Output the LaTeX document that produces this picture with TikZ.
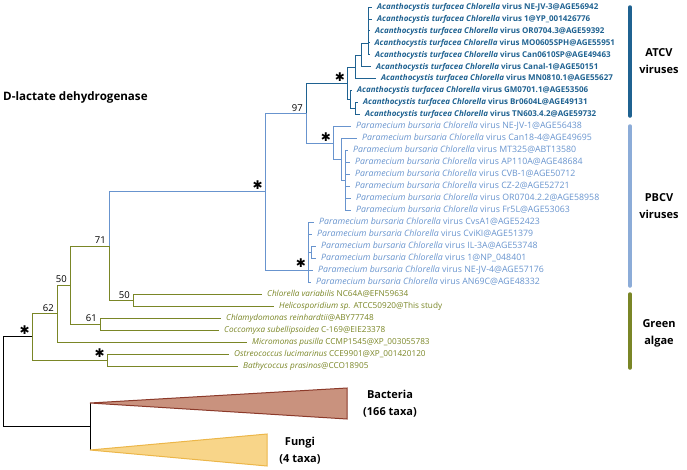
\documentclass[tikz,border=0pt]{standalone}
\usepackage{fontspec}
\setmainfont{Open Sans}
\newfontfamily\symfont{DejaVu Sans}
\definecolor{atcvc}{RGB}{31,98,145}
\definecolor{pbcvc}{RGB}{104,148,206}
\definecolor{algc}{RGB}{122,134,38}
\definecolor{pbbar}{RGB}{140,172,216}
\definecolor{bactfill}{RGB}{201,146,126}
\definecolor{bactline}{RGB}{140,58,42}
\definecolor{fungfill}{RGB}{248,213,137}
\definecolor{fungline}{RGB}{236,182,72}
\newcommand\atcvname[1]{\textit{Acanthocystis turfacea Chlorella} virus #1}
\newcommand\pbcvname[1]{\textit{Paramecium bursaria Chlorella} virus #1}
\tikzset{
  leaf/.style={anchor=west,inner xsep=5pt,inner ysep=0pt,text height=6pt,text depth=1.8pt,font=\fontsize{8.2}{9}\selectfont},
  atleaf/.style={leaf,text=atcvc,font=\fontsize{8}{9}\selectfont\bfseries},
  pbleaf/.style={leaf,text=pbcvc,font=\fontsize{8.8}{9}\selectfont},
  algleaf/.style={leaf,text=algc},
  br/.style={line width=1pt},
  supp/.style={anchor=south east,inner sep=1pt,xshift=-2pt,yshift=1pt,font=\fontsize{9.5}{10}\selectfont},
  bootstar/.style={anchor=south east,inner sep=1pt,xshift=-1pt,yshift=1pt,font=\symfont\fontsize{12}{12}\selectfont},
  grp/.style={align=center,font=\fontsize{11}{17}\selectfont\bfseries},
  bar/.style={line width=3.5pt,line cap=round}
}
\begin{document}
\begin{tikzpicture}[x=1pt,y=-1pt]
\useasboundingbox (0,0) rectangle (687,469);
\node[anchor=west,inner sep=0pt,font=\fontsize{11.6}{12}\selectfont\bfseries] (title) at (3,97) {D-lactate dehydrogenase};
\coordinate (root) at (3,381.7);
\coordinate (nBF) at (90,426.5);
\coordinate (bact) at (90,403);
\coordinate (fung) at (90,450);
\coordinate (alg) at (32,336.9);
\coordinate (n62) at (57,313.6);
\coordinate (n50) at (70,285.1);
\coordinate (n71) at (109,246);
\coordinate (n50b) at (133,300.3);
\coordinate (n61) at (100,324.2);
\coordinate (ostr) at (107,360.1);
\coordinate (vir) at (265,191.7);
\coordinate (n97) at (306,113.3);
\coordinate (atR) at (347,83.4);
\coordinate (atA) at (355,67);
\coordinate (atB) at (361,55);
\coordinate (atE) at (368,43);
\coordinate (atC) at (350,99.8);
\coordinate (atD) at (355,108.8);
\coordinate (pb1) at (333,143.2);
\coordinate (pb2) at (341,159.6);
\coordinate (pb3) at (345,180.6);
\coordinate (pb4) at (308,270);
\coordinate (pb5) at (311,252.4);
\node[atleaf] (l0) at (372,7) {\atcvname{NE-JV-3@AGE56942}};
\node[atleaf] (l1) at (372,19) {\atcvname{1@YP\_001426776}};
\node[atleaf] (l2) at (370,30.9) {\atcvname{OR0704.3@AGE59392}};
\node[atleaf] (l3) at (369.5,42.9) {\atcvname{MO0605SPH@AGE55951}};
\node[atleaf] (l4) at (370,54.9) {\atcvname{Can0610SP@AGE49463}};
\node[atleaf] (l5) at (371,66.9) {\atcvname{Canal-1@AGE50151}};
\node[atleaf] (l6) at (376,78.8) {\atcvname{MN0810.1@AGE55627}};
\node[atleaf] (l7) at (352,90.8) {\atcvname{GM0701.1@AGE53506}};
\node[atleaf] (l8) at (358,102.8) {\atcvname{Br0604L@AGE49131}};
\node[atleaf] (l9) at (360,114.7) {\atcvname{TN603.4.2@AGE59732}};
\node[pbleaf] (l10) at (351,126.7) {\pbcvname{NE-JV-1@AGE56438}};
\node[pbleaf] (l11) at (357,138.7) {\pbcvname{Can18-4@AGE49695}};
\node[pbleaf] (l12) at (348,150.6) {\pbcvname{MT325@ABT13580}};
\node[pbleaf] (l13) at (350,162.6) {\pbcvname{AP110A@AGE48684}};
\node[pbleaf] (l14) at (350,174.6) {\pbcvname{CVB-1@AGE50712}};
\node[pbleaf] (l15) at (350,186.6) {\pbcvname{CZ-2@AGE52721}};
\node[pbleaf] (l16) at (351,198.5) {\pbcvname{OR0704.2.2@AGE58958}};
\node[pbleaf] (l17) at (351,210.5) {\pbcvname{Fr5L@AGE53063}};
\node[pbleaf] (l18) at (314,222.5) {\pbcvname{CvsA1@AGE52423}};
\node[pbleaf] (l19) at (312,234.4) {\pbcvname{CviKI@AGE51379}};
\node[pbleaf] (l20) at (316,246.4) {\pbcvname{IL-3A@AGE53748}};
\node[pbleaf] (l21) at (316,258.4) {\pbcvname{1@NP\_048401}};
\node[pbleaf] (l22) at (313,270.3) {\pbcvname{NE-JV-4@AGE57176}};
\node[pbleaf] (l23) at (311,282.3) {\pbcvname{AN69C@AGE48332}};
\node[algleaf] (l24) at (262,294.3) {\textit{Chlorella variabilis} NC64A@EFN59634};
\node[algleaf] (l25) at (274,306.3) {\textit{Helicosporidium sp.} ATCC50920@This study};
\node[algleaf] (l26) at (221,318.2) {\textit{Chlamydomonas reinhardtii}@ABY77748};
\node[algleaf] (l27) at (219,330.2) {\textit{Coccomyxa subellipsoidea} C-169@EIE23378};
\node[algleaf] (l28) at (247,342.2) {\textit{Micromonas pusilla} CCMP1545@XP\_003055783};
\node[algleaf] (l29) at (229,354.1) {\textit{Ostreococcus lucimarinus} CCE9901@XP\_001420120};
\node[algleaf] (l30) at (238,366.1) {\textit{Bathycoccus prasinos}@CCO18905};
\draw[br] (root) |- (alg) (root) |- (nBF) (nBF) |- (bact) (nBF) |- (fung);
\draw[br,algc] (alg) |- (n62) (alg) |- (ostr) (n62) |- (n50) (n62) |- (l28.west) (n50) |- (n71) (n50) |- (n61) (n71) |- (n50b) (n50b) |- (l24.west) (n50b) |- (l25.west) (n61) |- (l26.west) (n61) |- (l27.west) (ostr) |- (l29.west) (ostr) |- (l30.west);
\draw[br,pbcvc] (n71) |- (vir) (vir) |- (n97) (vir) |- (pb4) (n97) |- (pb1) (pb1) |- (l10.west) (pb1) |- (pb2) (pb2) |- (l11.west) (pb2) |- (pb3) (pb3) |- (l12.west) (pb3) |- (l13.west) (pb3) |- (l14.west) (pb3) |- (l15.west) (pb3) |- (l16.west) (pb3) |- (l17.west) (pb4) |- (l18.west) (pb4) |- (l19.west) (pb4) |- (pb5) (pb5) |- (l20.west) (pb5) |- (l21.west) (pb4) |- (l22.west) (pb4) |- (l23.west);
\draw[br,atcvc] (n97) |- (atR) (atR) |- (atA) (atR) |- (atC) (atA) |- (atB) (atA) |- (l6.west) (atB) |- (atE) (atB) |- (l5.west) (atE) |- (l0.west) (atE) |- (l1.west) (atE) |- (l2.west) (atE) |- (l3.west) (atE) |- (l4.west) (atC) |- (l7.west) (atC) |- (atD) (atD) |- (l8.west) (atD) |- (l9.west);
\node[supp] (s97) at (n97) {97};
\node[supp] (s71) at (n71) {71};
\node[supp] (s50) at (n50) {50};
\node[supp] (s62) at (n62) {62};
\node[supp] (s61) at (n61) {61};
\node[supp] (s50b) at (n50b) {50};
\node[bootstar] (kalg) at (alg) {✱};
\node[bootstar] (kostr) at (ostr) {✱};
\node[bootstar] (kvir) at (vir) {✱};
\node[bootstar] (kpb4) at (pb4) {✱};
\node[bootstar] (kpb1) at (pb1) {✱};
\node[bootstar] (katR) at (atR) {✱};
\draw[line width=1pt,bactline,fill=bactfill] (bact) -- (347,388) -- (347,419) -- cycle;
\draw[line width=1pt,fungline,fill=fungfill] (fung) -- (267,434) -- (267,466) -- cycle;
\node[grp] (bactlab) at (390,404) {Bacteria\\(166 taxa)};
\node[grp] (funglab) at (300,451) {Fungi\\(4 taxa)};
\draw[bar,atcvc] (630,7) -- (630,116);
\draw[bar,pbbar] (630,126) -- (630,286);
\draw[bar,algc] (630,294) -- (630,368);
\node[grp] (atlab) at (659,61) {ATCV\\viruses};
\node[grp] (pblab) at (659,206) {PBCV\\viruses};
\node[grp] (alglab) at (659,333) {Green\\algae};
\end{tikzpicture}
\end{document}
